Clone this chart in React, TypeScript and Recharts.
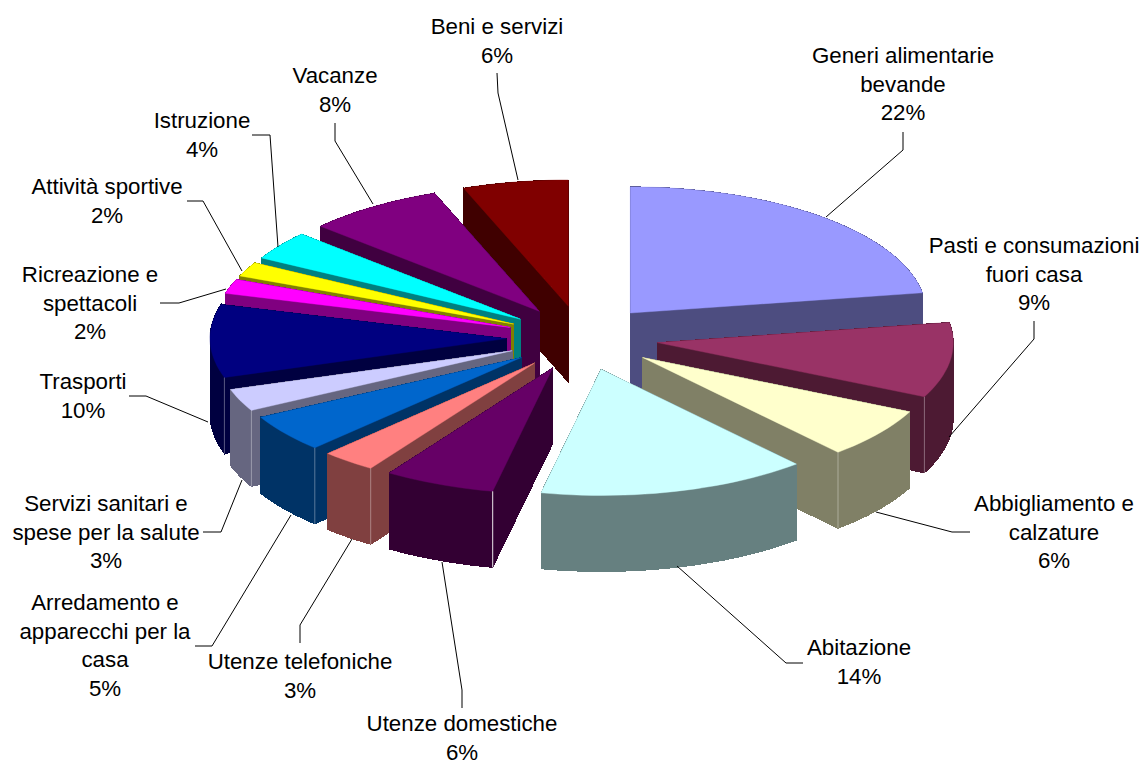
import { PieChart, Pie } from "recharts";

const categories = [
  "Generi alimentarie\nbevande",
  "Pasti e consumazioni\nfuori casa",
  "Abbigliamento e\ncalzature",
  "Abitazione",
  "Utenze domestiche",
  "Utenze telefoniche",
  "Arredamento e\napparecchi per la\ncasa",
  "Servizi sanitari e\nspese per la salute",
  "Trasporti",
  "Ricreazione e\nspettacoli",
  "Attività sportive",
  "Istruzione",
  "Vacanze",
  "Beni e servizi",
];
const shares = [22, 9, 6, 14, 6, 3, 5, 3, 10, 2, 2, 4, 8, 6];
const colors = [
  "#9999FF", "#993366", "#FFFFCC", "#CCFFFF", "#660066", "#FF8080", "#0066CC",
  "#CCCCFF", "#000080", "#FF00FF", "#FFFF00", "#00FFFF", "#800080", "#800000",
];
// back to front, so nearer slices cover the walls of the ones behind
const drawOrder = [13, 12, 11, 10, 9, 8, 0, 1, 2, 3, 7, 6, 5, 4];
// slices whose front corner shows a light edge
const litCorners = [1, 2, 4, 5, 6, 7, 8];

// label layout: centre x, y of the first line's middle
const labelSpots = [
  [903, 56], [1034, 246], [1054, 504], [859, 648], [462, 724], [300, 662], [105, 603],
  [106, 504], [83, 382], [90, 275], [107, 187], [202, 121], [335, 76], [497, 27],
];
const leaders = [
  "903,132 903,150 826,217",
  "1034,321 1034,339 949,437",
  "970,532 952,532 876,512",
  "803,663 786,663 677,566",
  "462,708 462,690 442,562",
  "300,643 300,625 352,539",
  "195,646 212,646 291,515",
  "203,532 221,532 242,480",
  "129,396 146,396 208,422",
  "160,303 179,303 226,289",
  "187,201 203,201 242,271",
  "252,135 270,135 278,247",
  "335,123 335,141 373,204",
  "497,73 498,93 518,180",
];

const rows = categories.map((name, i) => ({ name, value: shares[i], color: colors[i] }));

const CX = 582;
const CY = 338;
const RADIUS = 296;
const TILT = 0.426;
const EXPLODE = 76;
const DEPTH = 76;
const RAD = Math.PI / 180;

// screen position of a pie angle: the front of the pie is stretched by perspective
function project(deg: number, r: number, ox: number, oy: number) {
  const a = (90 - deg) * RAD;
  const warped = a + (4 * (1 - Math.cos(a)) - 1.7 * Math.sin(a)) * RAD;
  return { x: ox + r * Math.sin(warped), y: oy - r * TILT * Math.cos(warped) };
}

function darken(hex: string) {
  const n = parseInt(hex.slice(1), 16);
  const half = (v: number) => Math.round(v / 2);
  return `rgb(${half((n >> 16) & 255)},${half((n >> 8) & 255)},${half(n & 255)})`;
}

function Slice(props: any) {
  const { cx, cy, outerRadius, startAngle, endAngle, payload, index } = props;
  const mid = (startAngle + endAngle) / 2;
  const apex = project(mid, EXPLODE, cx, cy);
  const rim: { x: number; y: number }[] = [];
  const steps = Math.max(2, Math.ceil(Math.abs(endAngle - startAngle) / 2));
  for (let i = 0; i <= steps; i++) {
    rim.push(project(startAngle + ((endAngle - startAngle) * i) / steps, outerRadius, apex.x, apex.y));
  }
  const pt = (p: { x: number; y: number }, d = 0) => `${p.x.toFixed(1)},${(p.y + d).toFixed(1)}`;
  const first = rim[0];
  const last = rim[rim.length - 1];
  const side = darken(payload.color);
  const corner = index < 3 ? last : first;
  // one quad per rim step, a single outline would cancel itself where the rim turns
  const quads = [
    `M${pt(apex)}L${pt(first)}L${pt(first, DEPTH)}L${pt(apex, DEPTH)}Z`,
    `M${pt(apex)}L${pt(last)}L${pt(last, DEPTH)}L${pt(apex, DEPTH)}Z`,
    ...rim.slice(1).map((p, i) => `M${pt(rim[i])}L${pt(p)}L${pt(p, DEPTH)}L${pt(rim[i], DEPTH)}Z`),
  ];
  return (
    <g>
      {quads.map((d, i) => (
        <path key={i} d={d} fill={side} stroke={side} strokeWidth={1} shapeRendering="crispEdges" />
      ))}
      <path d={`M${pt(apex)}L${rim.map((p) => pt(p)).join("L")}Z`} fill={payload.color} stroke={payload.color} strokeWidth={0.4} />
      {litCorners.includes(index) && (
        <path d={`M${pt(corner)}L${pt(corner, DEPTH)}`} stroke="#fff" strokeOpacity={index === 4 ? 0.9 : 0.35} strokeWidth={1} />
      )}
    </g>
  );
}

function SliceLabel(props: any) {
  const { index } = props;
  const [x, y] = labelSpots[index];
  const lines = [...categories[index].split("\n"), `${shares[index]}%`];
  return (
    <g>
      <polyline points={leaders[index]} fill="none" stroke="#000" strokeWidth={1} />
      {lines.map((line, i) => (
        <text key={i} x={x} y={y + i * 28.7 + 7} textAnchor="middle" fontSize={22.3} fill="#000" fontFamily="'Liberation Sans', Arial, sans-serif">
          {line}
        </text>
      ))}
    </g>
  );
}

const pieProps = {
  data: rows,
  dataKey: "value",
  nameKey: "name",
  cx: CX,
  cy: CY,
  innerRadius: 0,
  outerRadius: RADIUS,
  startAngle: 90,
  endAngle: -270,
  paddingAngle: 0,
  stroke: "none",
  isAnimationActive: false,
  labelLine: false,
};

export default function App() {
  return (
    <div style={{ position: "absolute", left: 0, top: 0, width: 1142, height: 765, background: "#fff" }}>
      <PieChart width={1142} height={765} margin={{ top: 0, right: 0, bottom: 0, left: 0 }}>
        {drawOrder.map((slice) => (
          <Pie
            key={slice}
            {...pieProps}
            shape={(p: any) => (p.index === slice ? <Slice {...p} /> : <g />)}
          />
        ))}
        <Pie key="labels" {...pieProps} shape={() => <g />} label={SliceLabel} />
      </PieChart>
    </div>
  );
}
